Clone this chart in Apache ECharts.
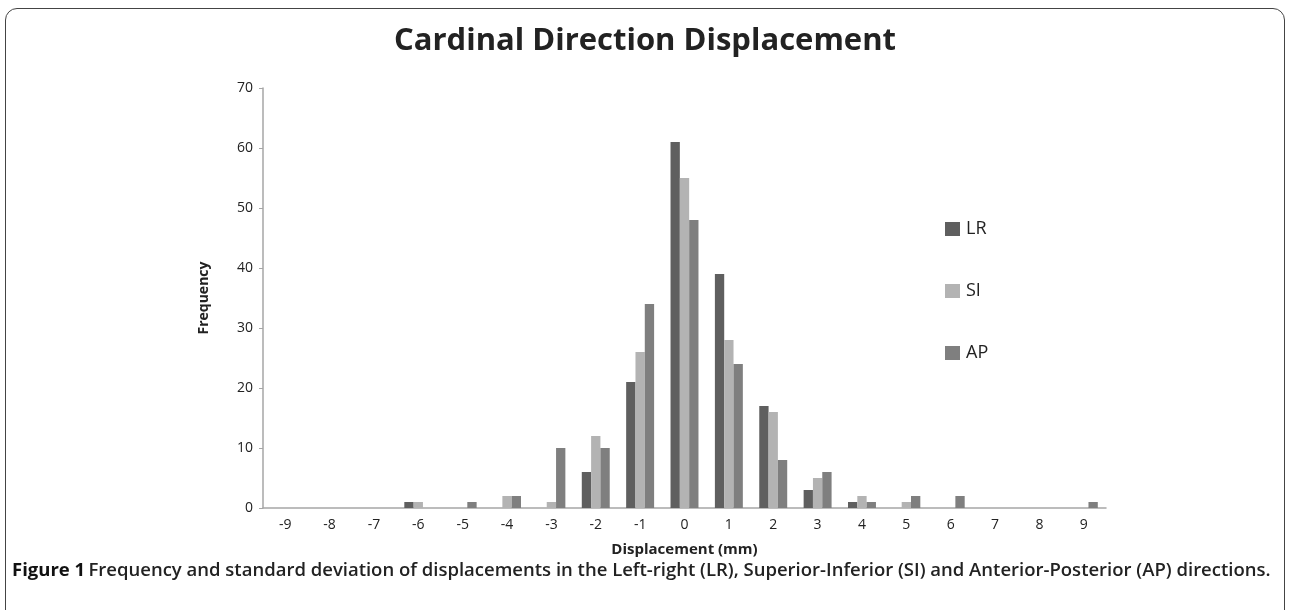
<!DOCTYPE html>
<html>
<head>
<meta charset="utf-8">
<script src="https://cdn.jsdelivr.net/npm/echarts@6/dist/echarts.min.js"></script>
<style>
  html, body { margin: 0; padding: 0; background: #fff; }
  .frame {
    position: absolute; left: 5px; top: 8px; width: 1280px; height: 640px;
    border: 1.5px solid #444; border-radius: 12px; box-sizing: border-box;
  }
  #chart { position: absolute; left: 0; top: 0; width: 1290px; height: 610px; }
</style>
</head>
<body>
<div class="frame"></div>
<div id="chart"></div>
<script>
// categories on the x axis (mm)
const displacements = ['-9', '-8', '-7', '-6', '-5', '-4', '-3', '-2', '-1', '0', '1', '2', '3', '4', '5', '6', '7', '8', '9']
// frequency per direction
const lrValues = [0, 0, 0, 1, 0, 0, 0, 6, 21, 61, 39, 17, 3, 1, 0, 0, 0, 0, 0]
const siValues = [0, 0, 0, 1, 0, 2, 1, 12, 26, 55, 28, 16, 5, 2, 1, 0, 0, 0, 0]
const apValues = [0, 0, 0, 0, 1, 2, 10, 10, 34, 48, 24, 8, 6, 1, 2, 2, 0, 0, 1]
const yTicks = [0, 10, 20, 30, 40, 50, 60, 70]

const chart = echarts.init(document.getElementById('chart'))

const font = '"Open Sans", sans-serif'

const option = {
  animation: false,
  textStyle: { fontFamily: font },
  title: {
    text: 'Cardinal Direction Displacement',
    left: 'center',
    top: 21,
    textStyle: { fontSize: 31, fontWeight: 'bold', color: '#222', fontFamily: font }
  },
  legend: {
    orient: 'vertical',
    left: 940,
    top: 215,
    itemGap: 44,
    itemWidth: 15,
    itemHeight: 14,
    icon: 'rect',
    textStyle: { fontSize: 18, color: '#222', padding: [0, 0, 0, 1] },
    data: ['LR', 'SI', 'AP']
  },
  grid: { left: 263, right: 184, top: 88, bottom: 102 },
  xAxis: {
    type: 'category',
    data: displacements,
    name: 'Displacement (mm)',
    nameLocation: 'middle',
    nameGap: 34,
    nameTextStyle: { fontSize: 15, fontWeight: 'bold', color: '#222' },
    axisLine: { lineStyle: { color: '#a6a6a6', width: 1.5 } },
    axisTick: { show: false },
    axisLabel: { fontSize: 14, color: '#222', margin: 10 }
  },
  yAxis: {
    type: 'value',
    min: yTicks[0],
    max: yTicks[yTicks.length - 1],
    interval: 10,
    name: 'Frequency',
    nameLocation: 'middle',
    nameGap: 52,
    nameTextStyle: { fontSize: 14, fontWeight: 'bold', color: '#222' },
    axisLine: { show: true, lineStyle: { color: '#a6a6a6', width: 1.5 } },
    axisTick: { show: true, length: 4, lineStyle: { color: '#a6a6a6' } },
    splitLine: { show: false },
    axisLabel: { fontSize: 14, color: '#222', margin: 10 }
  },
  series: [
    {
      name: 'LR', type: 'bar', data: lrValues,
      barGap: '0%', barCategoryGap: '37%',
      itemStyle: { color: '#5f5f5f' }
    },
    {
      name: 'SI', type: 'bar', data: siValues,
      barGap: '0%', barCategoryGap: '37%',
      itemStyle: { color: '#b3b3b3' }
    },
    {
      name: 'AP', type: 'bar', data: apValues,
      barGap: '0%', barCategoryGap: '37%',
      itemStyle: { color: '#7f7f7f' }
    }
  ],
  graphic: [
    {
      type: 'text',
      left: 12,
      top: 561,
      style: {
        text: '{b|Figure 1} {n|Frequency and standard deviation of displacements in the Left-right (LR), Superior-Inferior (SI) and Anterior-Posterior (AP) directions.}',
        rich: {
          b: { fontSize: 18.5, fontWeight: 'bold', fontFamily: font, fill: '#111' },
          n: { fontSize: 18.5, fontWeight: 600, fontFamily: font, fill: '#222' }
        }
      }
    }
  ]
}

chart.setOption(option)
</script>
</body>
</html>
